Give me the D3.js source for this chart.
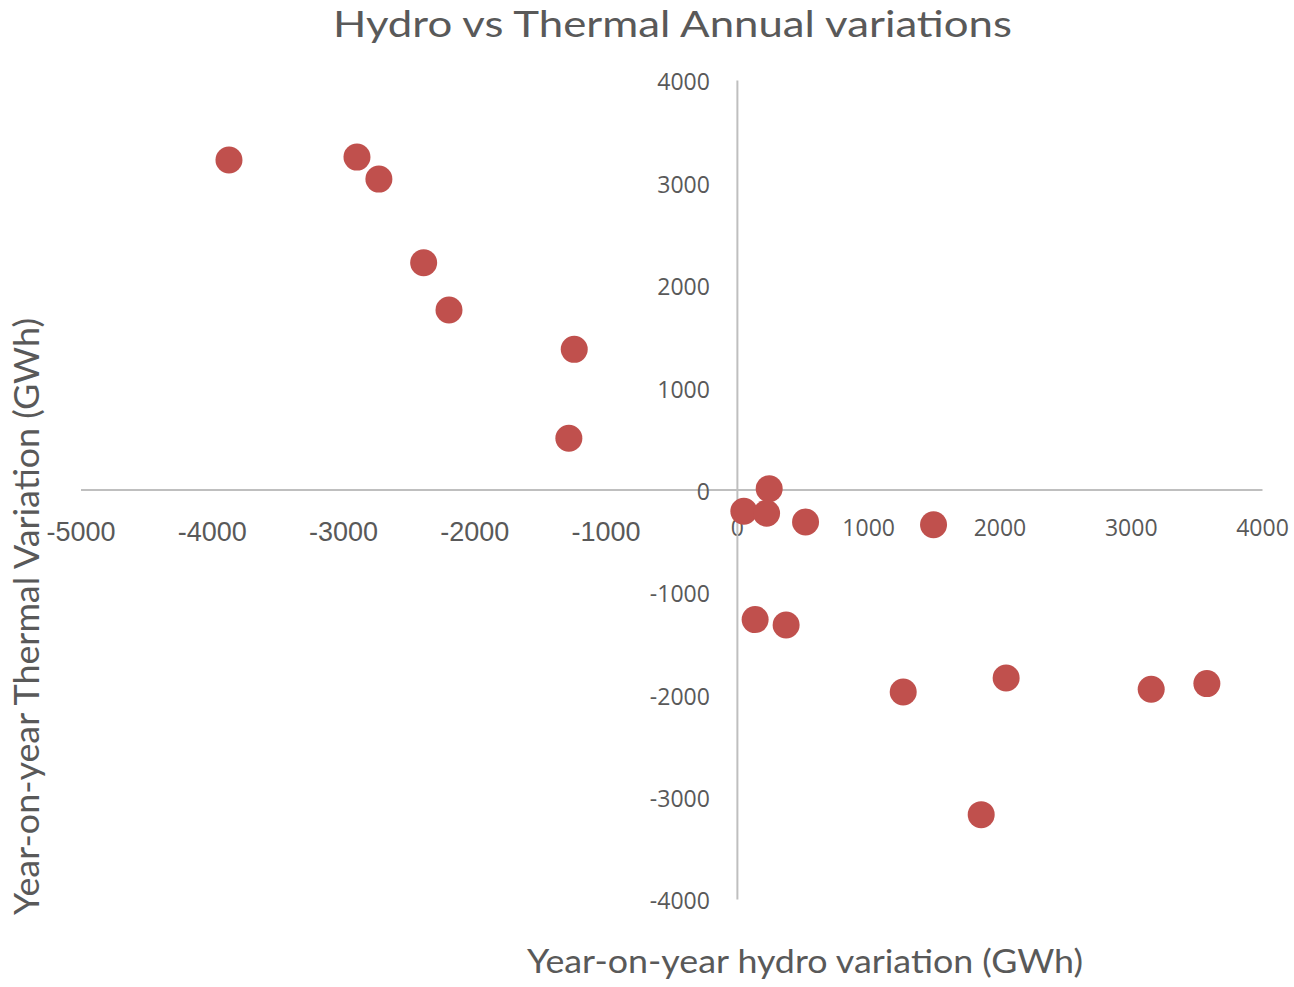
<!DOCTYPE html>
<html>
<head>
<meta charset="utf-8">
<script src="https://cdn.jsdelivr.net/npm/d3@7"></script>
<style>
  body { margin: 0; background: #fff; }
</style>
</head>
<body>
<div class="chart"></div>
<script>
const svgWidth = 1294,
  svgHeight = 987,
  textColor = '#595959',
  axisColor = '#bfbfbf',
  dotColor = '#c0504d';

// year-on-year variations, GWh
const hydroVar = [-3869, -2894, -2727, -2386, -2193, -1239, -1280, 246, 53, 226, 523, 1498, 139, 375, 1267, 2051, 3156, 3580, 1861];
const thermalVar = [3218, 3247, 3032, 2215, 1753, 1369, 500, 8, -212, -232, -317, -344, -1271, -1323, -1978, -1841, -1951, -1896, -3176];

const xTicks = [-5000, -4000, -3000, -2000, -1000, 0, 1000, 2000, 3000, 4000];
const yTicks = [-4000, -3000, -2000, -1000, 0, 1000, 2000, 3000, 4000];

const data = hydroVar.map((h, i) => ({ hydro: h, thermal: thermalVar[i] }));

const svg = d3.select('.chart')
  .append('svg')
  .attr('width', svgWidth)
  .attr('height', svgHeight);

const xScale = d3.scaleLinear()
  .domain([-5000, 4000])
  .range([80.5, 1262]);

const yScale = d3.scaleLinear()
  .domain([-4000, 4000])
  .range([899, 80]);

// x axis sits on y = 0
const xAxis = d3.axisBottom(xScale)
  .tickValues(xTicks)
  .tickSize(0)
  .tickSizeOuter(0)
  .tickFormat(d3.format('d'));

const gx = svg.append('g')
  .attr('transform', `translate(0, ${yScale(0)})`)
  .call(xAxis);

gx.select('.domain')
  .attr('stroke', axisColor)
  .attr('stroke-width', 2);

gx.selectAll('text')
  .attr('fill', textColor)
  .attr('dy', null)
  .attr('y', d => d < 0 ? 51 : 46.5)
  .style('font-family', d => d < 0 ? '"Liberation Sans", Arial, sans-serif' : '"Open Sans", sans-serif')
  .style('font-size', d => d < 0 ? '27px' : '23px')
  .text(d => d < 0 ? '-' + Math.abs(d) : d);

// y axis sits on x = 0
const yAxis = d3.axisLeft(yScale)
  .tickValues(yTicks)
  .tickSize(0)
  .tickSizeOuter(0)
  .tickFormat(d3.format('d'));

const gy = svg.append('g')
  .attr('transform', `translate(${xScale(0)}, 0)`)
  .call(yAxis);

gy.select('.domain')
  .attr('stroke', axisColor)
  .attr('stroke-width', 2);

gy.selectAll('text')
  .attr('fill', textColor)
  .attr('x', -27)
  .attr('dy', '0.43em')
  .style('font-family', '"Open Sans", sans-serif')
  .style('font-size', '23px')
  .text(d => d < 0 ? '-' + Math.abs(d) : d);

svg.selectAll('.tick line').remove();

// dots
svg.append('g')
  .selectAll('circle')
  .data(data)
  .enter()
  .append('circle')
  .attr('cx', d => xScale(d.hydro))
  .attr('cy', d => yScale(d.thermal))
  .attr('r', 13.5)
  .attr('fill', dotColor);

// titles
svg.append('text')
  .attr('x', 672.5)
  .attr('y', 37)
  .attr('text-anchor', 'middle')
  .attr('textLength', 679)
  .attr('lengthAdjust', 'spacingAndGlyphs')
  .attr('fill', textColor)
  .style('font-family', 'Lato, sans-serif')
  .style('font-size', '37px')
  .text('Hydro vs Thermal Annual variations');

svg.append('text')
  .attr('x', 805)
  .attr('y', 973)
  .attr('text-anchor', 'middle')
  .attr('textLength', 556)
  .attr('lengthAdjust', 'spacingAndGlyphs')
  .attr('fill', textColor)
  .style('font-family', 'Lato, sans-serif')
  .style('font-size', '32px')
  .text('Year-on-year hydro variation (GWh)');

svg.append('text')
  .attr('transform', 'translate(39, 616.5) rotate(-90)')
  .attr('text-anchor', 'middle')
  .attr('textLength', 597)
  .attr('lengthAdjust', 'spacingAndGlyphs')
  .attr('fill', textColor)
  .style('font-family', 'Lato, sans-serif')
  .style('font-size', '34px')
  .text('Year-on-year Thermal Variation (GWh)');
</script>
</body>
</html>
